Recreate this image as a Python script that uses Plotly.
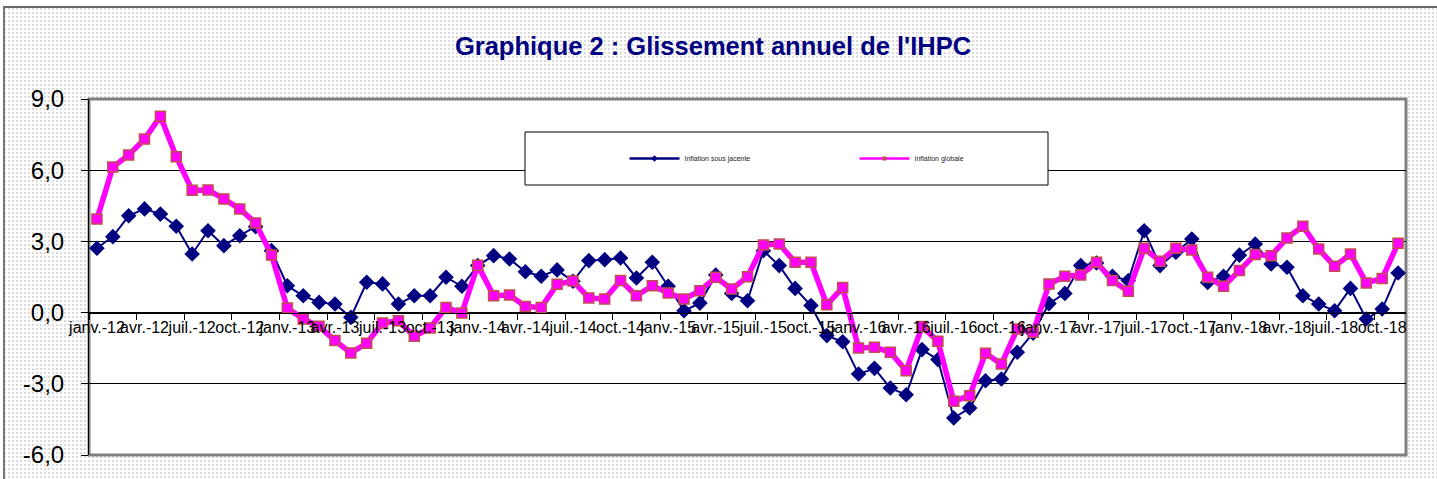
import base64
import plotly.graph_objects as go

# ---------------- data ----------------
mois_abbr = ["janv.", "févr.", "mars", "avr.", "mai", "juin",
             "juil.", "août", "sept.", "oct.", "nov.", "déc."]
annees = ["12", "13", "14", "15", "16", "17", "18"]
mois = [f"{m}-{a}" for a in annees for m in mois_abbr][:83]  # janv.-12 .. nov.-18

inflation_sous_jacente = [
    2.71, 3.20, 4.08, 4.37, 4.15, 3.64, 2.47, 3.45, 2.82, 3.24, 3.62, 2.61,
    1.13, 0.71, 0.43, 0.36, -0.20, 1.28, 1.21, 0.36, 0.71, 0.71, 1.49, 1.11,
    1.98, 2.40, 2.26, 1.72, 1.53, 1.80, 1.32, 2.19, 2.23, 2.30, 1.46, 2.12,
    1.11, 0.08, 0.40, 1.58, 0.81, 0.50, 2.61, 1.98, 1.02, 0.30, -0.97, -1.23,
    -2.59, -2.35, -3.18, -3.46, -1.56, -1.98, -4.44, -4.02, -2.87, -2.80, -1.67, -0.87,
    0.38, 0.81, 1.98, 2.09, 1.53, 1.35, 3.45, 1.98, 2.54, 3.10, 1.27, 1.53,
    2.42, 2.89, 2.05, 1.91, 0.71, 0.36, 0.08, 1.02, -0.27, 0.15, 1.67,
]
inflation_globale = [
    3.94, 6.13, 6.64, 7.31, 8.27, 6.57, 5.15, 5.17, 4.79, 4.37, 3.78, 2.43,
    0.19, -0.27, -0.58, -1.18, -1.70, -1.29, -0.44, -0.34, -1.00, -0.65, 0.22, -0.02,
    2.00, 0.71, 0.74, 0.26, 0.22, 1.19, 1.33, 0.62, 0.57, 1.35, 0.71, 1.13,
    0.83, 0.57, 0.92, 1.49, 0.99, 1.51, 2.85, 2.89, 2.12, 2.12, 0.33, 1.06,
    -1.49, -1.46, -1.67, -2.45, -0.59, -1.21, -3.74, -3.50, -1.71, -2.17, -0.69, -0.83,
    1.20, 1.53, 1.58, 2.12, 1.35, 0.90, 2.71, 2.16, 2.71, 2.64, 1.49, 1.11,
    1.77, 2.45, 2.40, 3.14, 3.64, 2.68, 1.95, 2.47, 1.25, 1.44, 2.92,
]
y_ticks = [-6, -3, 0, 3, 6, 9]
y_tick_text = [f"{v:.1f}".replace(".", ",") for v in y_ticks]

# ---------------- geometry ----------------
W, H = 1437, 479
L, R, T, B = 89, 31, 99, 24
PW, PH = W - L - R, H - T - B

x_idx = list(range(len(mois)))
tick_idx = x_idx[::3]
tick_txt = mois[::3]
bound_idx = [i - 0.5 for i in tick_idx]

# background (Excel-like dotted pattern, white plot area with grey frame)
svg = f"""<svg xmlns='http://www.w3.org/2000/svg' width='{W}' height='{H}'>
<defs><pattern id='p' width='4' height='4' patternUnits='userSpaceOnUse'>
<rect width='4' height='4' fill='#ffffff'/><rect x='0' y='0' width='2' height='2' fill='#dadada'/>
</pattern></defs>
<rect width='{W}' height='{H}' fill='#ffffff'/>
<rect x='4' y='7' width='{W-4}' height='{H-7}' fill='url(#p)'/>
<line x1='3' y1='7' x2='{W}' y2='7' stroke='#333333' stroke-width='1.5'/>
<line x1='4' y1='7' x2='4' y2='{H}' stroke='#777777' stroke-width='2'/>
<rect x='{L}' y='{T}' width='{PW}' height='{PH}' fill='#ffffff' stroke='#808080' stroke-width='3'/>
</svg>"""
svg_uri = "data:image/svg+xml;base64," + base64.b64encode(svg.encode()).decode()

fig = go.Figure()
fig.add_trace(go.Scatter(
    x=x_idx, y=inflation_sous_jacente, name="Inflation sous jacente",
    mode="lines+markers", showlegend=False, legendgroup="a",
    line=dict(color="#000080", width=2),
    marker=dict(symbol="diamond", size=12, color="#000080"),
))
fig.add_trace(go.Scatter(
    x=x_idx, y=inflation_globale, name="Inflation globale",
    mode="lines+markers", showlegend=False, legendgroup="b",
    line=dict(color="#FF00FF", width=5.5),
    marker=dict(symbol="square", size=10, color="#FF00FF",
                line=dict(color="#C0504D", width=1.5)),
))
# legend entries (small markers as in the original legend)
fig.add_trace(go.Scatter(
    x=[None], y=[None], name="Inflation sous jacente", legendgroup="a",
    mode="lines+markers", line=dict(color="#000080", width=2.5),
    marker=dict(symbol="diamond", size=5, color="#000080"),
))
fig.add_trace(go.Scatter(
    x=[None], y=[None], name="Inflation globale", legendgroup="b",
    mode="lines+markers", line=dict(color="#FF00FF", width=2.5),
    marker=dict(symbol="square", size=4, color="#C0504D"),
))

fig.update_layout(
    width=W, height=H,
    margin=dict(l=L, r=R, t=T, b=B, autoexpand=False),
    paper_bgcolor="#ffffff",
    plot_bgcolor="rgba(0,0,0,0)",
    separators=", ",
    font=dict(family="Liberation Sans, Arial, sans-serif", color="#000000"),
    title=dict(text="<b>Graphique 2 : Glissement annuel de l'IHPC</b>",
               x=713 / W, xanchor="center", xref="container",
               y=1 - 46 / H, yanchor="middle", yref="container",
               font=dict(size=25.5, color="#000080")),
    showlegend=True,
    legend=dict(orientation="h", x=(854.5 - L) / PW, y=(H - B - 158.5) / PH,
                xanchor="center", yanchor="middle",
                bgcolor="rgba(0,0,0,0)", borderwidth=0,
                itemwidth=50, entrywidth=165,
                font=dict(size=7, color="#222222")),
    images=[dict(source=svg_uri, xref="paper", yref="paper",
                 x=-L / PW, y=1 + T / PH, sizex=W / PW, sizey=H / PH,
                 xanchor="left", yanchor="top", sizing="stretch", layer="below")],
    shapes=[dict(type="rect", xref="paper", yref="paper",
                 x0=(525 - L) / PW, x1=(1048 - L) / PW,
                 y0=(H - B - 185) / PH, y1=(H - B - 132) / PH,
                 fillcolor="#ffffff", line=dict(color="#000000", width=1), layer="above")],
)

fig.update_xaxes(
    range=[-0.5, len(mois) - 0.5], automargin=False,
    anchor="free", position=(0 - y_ticks[0]) / (y_ticks[-1] - y_ticks[0]),
    tickmode="array", tickvals=tick_idx, ticktext=tick_txt, tickangle=0,
    ticks="", showgrid=False, zeroline=False,
    showline=True, linecolor="#000000", linewidth=1,
    tickfont=dict(size=16, color="#000000"),
    minor=dict(tickmode="array", tickvals=bound_idx, ticks="outside",
               ticklen=6, tickcolor="#000000", tickwidth=1, showgrid=False),
)
fig.update_yaxes(
    range=[y_ticks[0], y_ticks[-1]], automargin=False,
    tickmode="array", tickvals=y_ticks, ticktext=y_tick_text,
    showgrid=True, gridcolor="#000000", gridwidth=1,
    zeroline=True, zerolinecolor="#000000", zerolinewidth=1,
    showline=True, linecolor="#000000", linewidth=1,
    ticks="outside", ticklen=7, tickcolor="#000000",
    ticklabelstandoff=12,
    tickfont=dict(size=24, color="#000000"),
)

fig.write_html("out.html", config={"displayModeBar": False},
               post_script="document.body.style.margin='0';document.body.style.overflow='hidden';")
